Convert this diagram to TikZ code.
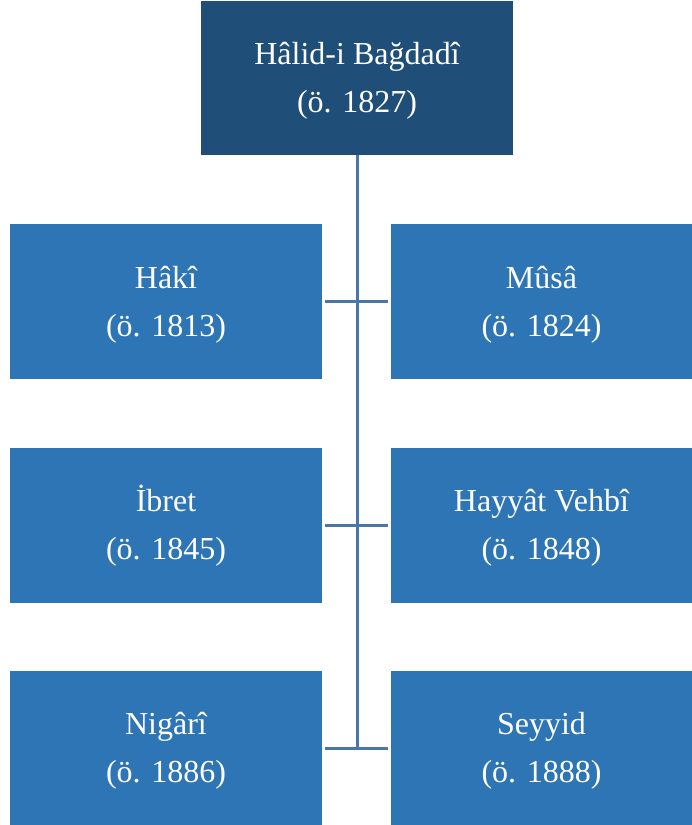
\documentclass[tikz,border=0pt]{standalone}
\usepackage{fontspec}
\setmainfont{Liberation Serif}
\definecolor{topblue}{HTML}{1F4E79}
\definecolor{childblue}{HTML}{2E75B6}
\definecolor{linkblue}{HTML}{4A76A8}
\newcommand\mytopstrut{\rule{0pt}{28pt}}
\begin{document}
\begin{tikzpicture}[x=1pt,y=-1pt,
  box/.style={inner sep=0pt, align=center, text=white,
    font=\fontsize{32}{48}\selectfont},
  topbox/.style={box, fill=topblue, minimum width=312pt, minimum height=154pt},
  leftbox/.style={box, fill=childblue, minimum width=312pt, minimum height=155pt},
  rightbox/.style={box, fill=childblue, minimum width=301pt, minimum height=155pt},
  link/.style={draw=linkblue, line width=3pt}]
\useasboundingbox (0,0) rectangle (692,825);
\node[topbox] (top) at (357,78) {\mytopstrut Hâlid-i Bağdadî\\(ö. 1827)};
\node[leftbox] (l1) at (166,301.5) {\mytopstrut Hâkî\\(ö. 1813)};
\node[leftbox] (l2) at (166,525) {\mytopstrut İbret\\(ö. 1845)};
\node[leftbox] (l3) at (166,748) {\mytopstrut Nigârî\\(ö. 1886)};
\node[rightbox] (r1) at (541.5,301.5) {\mytopstrut Mûsâ\\(ö. 1824)};
\node[rightbox] (r2) at (541.5,525) {\mytopstrut Hayyât Vehbî\\(ö. 1848)};
\node[rightbox] (r3) at (541.5,748) {\mytopstrut Seyyid\\(ö. 1888)};
\coordinate (bend) at (top.south |- r3.west);
\draw[link] (top.south) -- ([yshift=1.5pt]bend);
\draw[link, shorten <=3pt, shorten >=3pt] (l1.east) -- (r1.west);
\draw[link, shorten <=3pt, shorten >=3pt] (l2.east) -- (r2.west);
\draw[link, shorten <=3pt, shorten >=3pt] (l3.east) -- (r3.west);
\end{tikzpicture}
\end{document}
